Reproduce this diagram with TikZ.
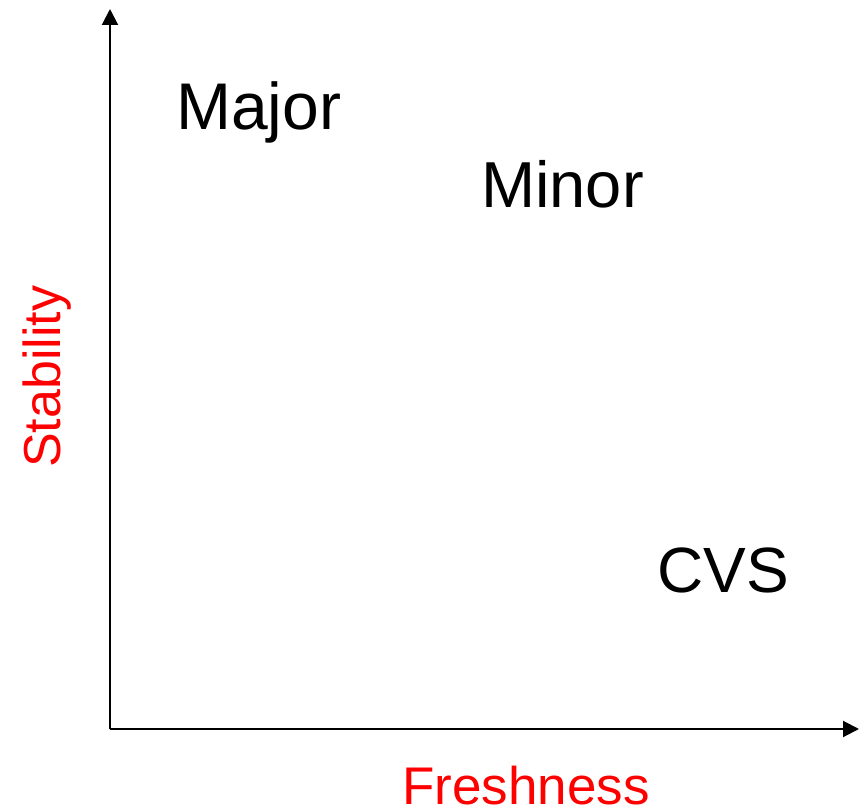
\documentclass[tikz,border=0pt]{standalone}
\usepackage{fontspec}
\setmainfont{Liberation Sans}
\usetikzlibrary{arrows.meta}
\begin{document}
\begin{tikzpicture}[x=1pt,y=1pt,
  axis/.style={line width=2pt,-{Triangle[length=16pt,width=16pt]}},
  biglabel/.style={inner sep=0pt,anchor=base west},
  axislabel/.style={inner sep=0pt,anchor=base west,text=red,font=\fontsize{53}{53}\selectfont}]
\useasboundingbox (0,0) rectangle (860,809);
\coordinate (o) at (110,80);
\coordinate (ytip) at (110,800);
\coordinate (xtip) at (859,80);
\draw[axis] (o) -- (ytip);
\draw[axis] (o) -- (xtip);
\node[biglabel,font=\fontsize{66}{66}\selectfont] (major) at (176,679) {Major};
\node[biglabel,font=\fontsize{65}{65}\selectfont] (minor) at (481,601) {Minor};
\node[biglabel,font=\fontsize{64}{64}\selectfont] (cvs) at (657,216) {CVS};
\node[axislabel] (fresh) at (402,4) {Freshness};
\node[axislabel,font=\fontsize{52}{52}\selectfont,rotate=90] (stab) at (60,341) {Stability};
\end{tikzpicture}
\end{document}
